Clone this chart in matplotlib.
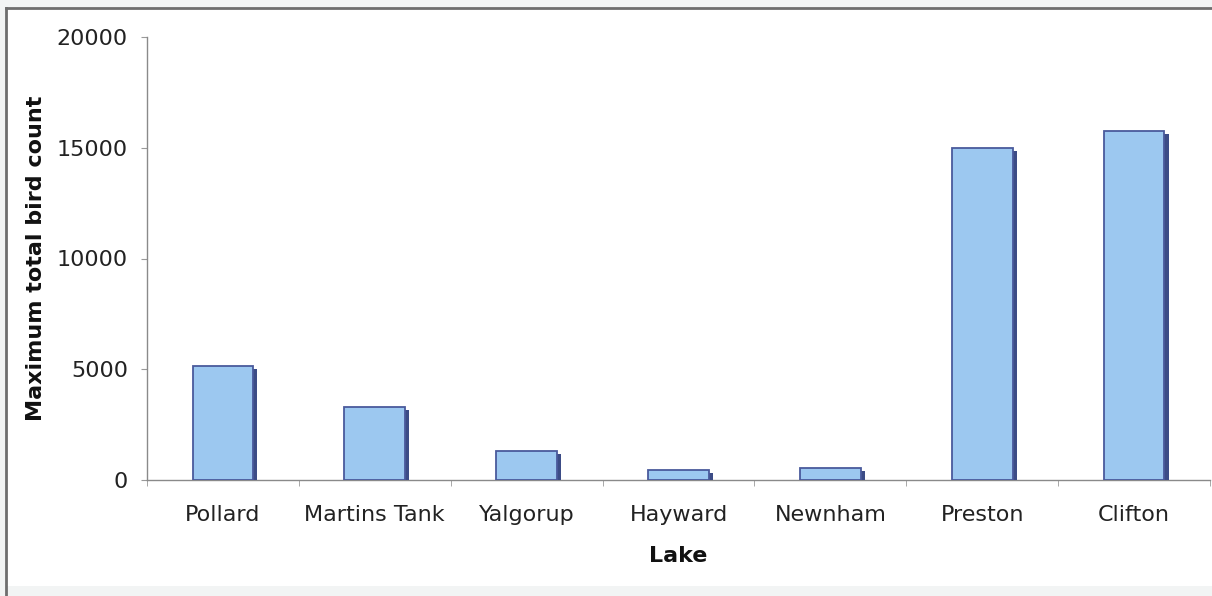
import matplotlib
matplotlib.use("Agg")
import matplotlib.pyplot as plt
import matplotlib.patheffects as pe
from matplotlib.patches import Rectangle
import numpy as np

lakes = ["Pollard", "Martins Tank", "Yalgorup", "Hayward", "Newnham", "Preston", "Clifton"]
max_counts = [5150, 3300, 1300, 450, 550, 15000, 15750]
y_ticks = [0, 5000, 10000, 15000, 20000]

W, H = 1212, 596
fig = plt.figure(figsize=(W / 100, H / 100), dpi=100, facecolor="#f2f4f4")

# white chart area with a dark frame on the left and top
frame = Rectangle((6 / W, 1 - 586 / H), 1.0, 578 / H, transform=fig.transFigure,
                  facecolor="white", edgecolor="none", zorder=-10)
fig.add_artist(frame)
fig.add_artist(plt.Line2D([6 / W, 6 / W], [0, 1 - 8 / H], transform=fig.transFigure,
                          color="#6e6e6e", lw=2, zorder=-5))
fig.add_artist(plt.Line2D([6 / W, 1], [1 - 8 / H, 1 - 8 / H], transform=fig.transFigure,
                          color="#6e6e6e", lw=2, zorder=-5))

ax = fig.add_axes([147 / W, 1 - 480 / H, (1210 - 147) / W, (480 - 37) / H])
ax.set_facecolor("none")
ax.set_zorder(1)

x = np.arange(len(lakes))
bars = ax.bar(x, max_counts, width=0.4, color="#9cc8f0", edgecolor="#4a5a9c",
              linewidth=1.3, zorder=3)
for b in bars:
    b.set_path_effects([pe.SimplePatchShadow(offset=(3, -2), shadow_rgbFace="#3c4c86",
                                             alpha=1.0), pe.Normal()])

ax.set_xlim(-0.5, len(lakes) - 0.5)
ax.set_ylim(0, 20000)
ax.set_yticks(y_ticks)
ax.set_yticklabels([str(v) for v in y_ticks])
ax.set_xticks(x)
ax.set_xticklabels(lakes)
ax.set_xticks(np.arange(len(lakes) + 1) - 0.5, minor=True)

ax.tick_params(axis="x", which="major", length=0, pad=18, labelsize=16, labelcolor="#222222")
ax.tick_params(axis="x", which="minor", length=4, color="#9a9a9a", direction="out")
ax.tick_params(axis="y", length=4.3, color="#9a9a9a", pad=9.5, labelsize=16, labelcolor="#222222")

for s in ["top", "right"]:
    ax.spines[s].set_visible(False)
for s in ["left", "bottom"]:
    ax.spines[s].set_color("#8a8a8a")
    ax.spines[s].set_linewidth(1.0)

ax.set_xlabel("Lake", fontsize=16, fontweight="bold", labelpad=15, color="#111111")
ax.set_ylabel("Maximum total bird count", fontsize=16, fontweight="bold", labelpad=8,
              color="#111111")

fig.savefig("out.png", dpi=100, facecolor=fig.get_facecolor())
